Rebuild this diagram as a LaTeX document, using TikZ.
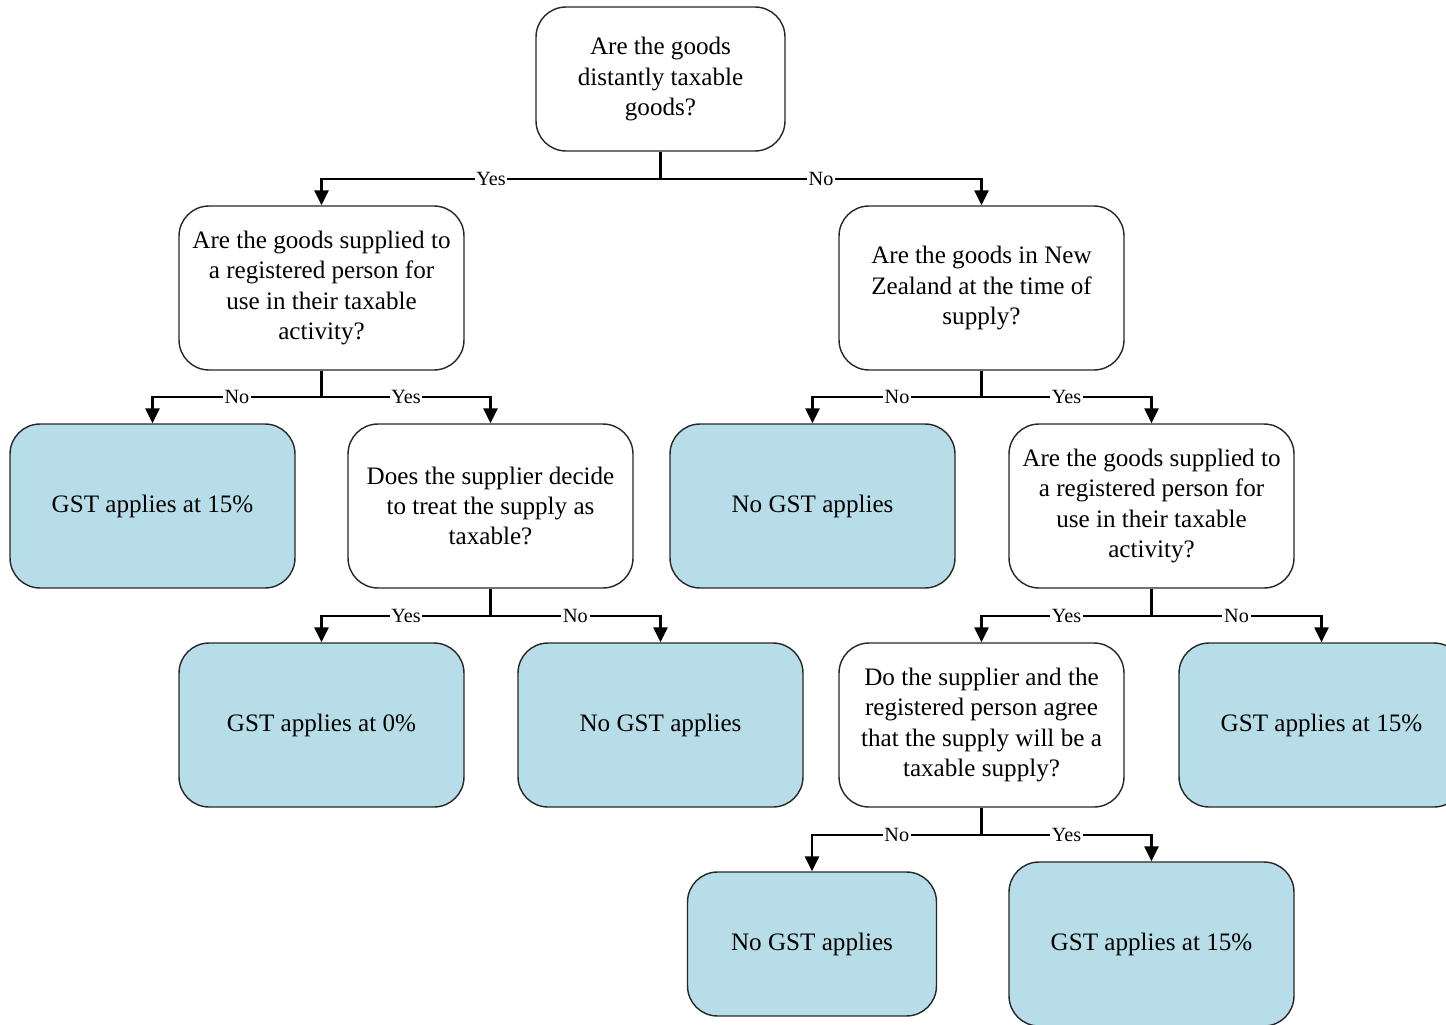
\documentclass[tikz,border=0pt]{standalone}
\usepackage{fontspec}
\setmainfont{Liberation Serif}
\usetikzlibrary{arrows.meta,calc}
\definecolor{leafblue}{RGB}{183,221,232}
\begin{document}
\begin{tikzpicture}[x=0.02cm,y=-0.02cm,
  qbox/.style={draw=black!85,line width=0.8pt,rounded corners=0.6cm,fill=white,
    minimum width=5.7cm,minimum height=3.28cm,align=center,inner sep=2pt,
    font=\fontsize{14.3}{17.1}\selectfont},
  sbox/.style={qbox,minimum width=4.98cm,minimum height=2.88cm},
  leaf/.style={qbox,fill=leafblue},
  sleaf/.style={sbox,fill=leafblue},
  conn/.style={line width=1.2pt,draw=black},
  arr/.style={conn,-{Triangle[length=8.5pt,width=8pt]}},
  lbl/.style={fill=white,inner sep=1pt,font=\fontsize{11.5}{13}\selectfont}]
\useasboundingbox (0,0) rectangle (1446,1024);
\clip (0,0) rectangle (1446,1024);
\node[sbox] (top) at (660.5,79) {Are the goods\\distantly taxable\\goods?};
\node[qbox] (q2) at (321.5,288) {Are the goods supplied to\\a registered person for\\use in their taxable\\activity?};
\node[qbox] (q3) at (981.5,288) {Are the goods in New\\Zealand at the time of\\supply?};
\node[leaf] (l1) at (152.5,506) {GST applies at 15\%};
\node[qbox] (q4) at (490.5,506) {Does the supplier decide\\to treat the supply as\\taxable?};
\node[leaf] (l2) at (812.5,506) {No GST applies};
\node[qbox] (q5) at (1151.5,506) {Are the goods supplied to\\a registered person for\\use in their taxable\\activity?};
\node[leaf] (l3) at (321.5,725) {GST applies at 0\%};
\node[leaf] (l4) at (660.5,725) {No GST applies};
\node[qbox] (q6) at (981.5,725) {Do the supplier and the\\registered person agree\\that the supply will be a\\taxable supply?};
\node[leaf] (l5) at (1321.5,725) {GST applies at 15\%};
\node[sleaf] (l6) at (812,944) {No GST applies};
\node[leaf] (l7) at (1151.5,944) {GST applies at 15\%};
% junctions
\coordinate (j0) at ($(top.south)+(0,27)$);
\coordinate (j2) at ($(q2.south)+(0,26)$);
\coordinate (j3) at ($(q3.south)+(0,26)$);
\coordinate (j4) at ($(q4.south)+(0,27)$);
\coordinate (j5) at ($(q5.south)+(0,27)$);
\coordinate (j6) at ($(q6.south)+(0,27)$);
\draw[conn] (top.south) -- (j0);
\draw[arr] (j0) -| node[lbl,pos=0.25]{Yes} (q2.north);
\draw[arr] (j0) -| node[lbl,pos=0.25]{No} (q3.north);
\draw[conn] (q2.south) -- (j2);
\draw[arr] (j2) -| node[lbl,pos=0.25]{No} (l1.north);
\draw[arr] (j2) -| node[lbl,pos=0.25]{Yes} (q4.north);
\draw[conn] (q3.south) -- (j3);
\draw[arr] (j3) -| node[lbl,pos=0.25]{No} (l2.north);
\draw[arr] (j3) -| node[lbl,pos=0.25]{Yes} (q5.north);
\draw[conn] (q4.south) -- (j4);
\draw[arr] (j4) -| node[lbl,pos=0.25]{Yes} (l3.north);
\draw[arr] (j4) -| node[lbl,pos=0.25]{No} (l4.north);
\draw[conn] (q5.south) -- (j5);
\draw[arr] (j5) -| node[lbl,pos=0.25]{Yes} (q6.north);
\draw[arr] (j5) -| node[lbl,pos=0.25]{No} (l5.north);
\draw[conn] (q6.south) -- (j6);
\draw[arr] (j6) -| node[lbl,pos=0.25]{No} (l6.north);
\draw[arr] (j6) -| node[lbl,pos=0.25]{Yes} (l7.north);
\end{tikzpicture}
\end{document}
